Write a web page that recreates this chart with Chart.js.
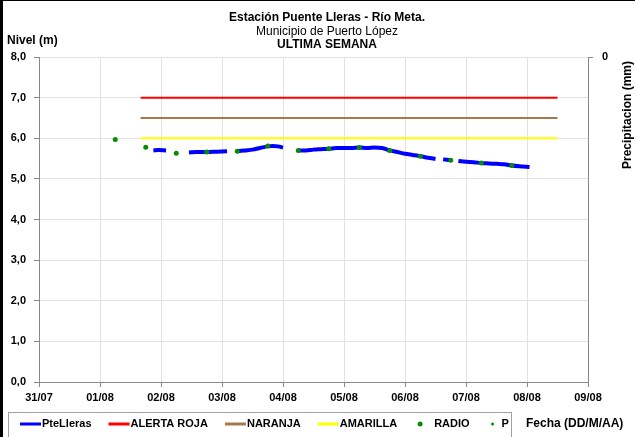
<!DOCTYPE html>
<html>
<head>
<meta charset="utf-8">
<script src="https://cdn.jsdelivr.net/npm/chart.js@4"></script>
<style>
html, body { margin: 0; padding: 0; background: #fff; }
</style>
</head>
<body>
<canvas id="nivel" width="635" height="437"></canvas>
<script>
// eje x en horas desde 31/07 00:00
var fechas = ['31/07', '01/08', '02/08', '03/08', '04/08', '05/08', '06/08', '07/08', '08/08', '09/08'];

// PteLleras (null = hueco en el registro)
var nivelHoras = [45, 47, 50, 52,
    59, 62, 66, 70, 74, 76,
    78, 81, 84, 87, 90, 92, 94, 96, 99,
    102, 105, 108, 111, 114, 117, 120, 123, 126, 129, 132, 135, 138, 141, 144, 147, 150, 153, 156, 157,
    159, 162, 163,
    165, 168, 171, 174, 177, 180, 183, 186, 189, 193];
var nivelM = [5.70, 5.71, 5.70, null,
    5.65, 5.66, 5.66, 5.67, 5.68, null,
    5.68, 5.70, 5.72, 5.76, 5.80, 5.81, 5.80, 5.77, null,
    5.70, 5.70, 5.72, 5.73, 5.74, 5.76, 5.76, 5.76, 5.77, 5.76, 5.77, 5.76, 5.70, 5.66, 5.62, 5.59, 5.56, 5.52, 5.49, null,
    5.48, 5.46, null,
    5.44, 5.42, 5.41, 5.39, 5.38, 5.37, 5.36, 5.33, 5.31, 5.29];

// lecturas de RADIO
var radioHoras = [30, 42, 54, 66, 78, 90, 102, 114, 126, 138, 150, 162, 174, 186];
var radioM = [5.97, 5.78, 5.63, 5.66, 5.68, 5.81, 5.70, 5.74, 5.77, 5.70, 5.56, 5.46, 5.39, 5.33];

// umbrales de alerta
var alertaNombres = ['ALERTA ROJA', 'NARANJA', 'AMARILLA'];
var alertaNiveles = [7.0, 6.5, 6.0];
var alertaColores = ['#ff0000', '#a8784c', '#ffff00'];
var alertaDesde = 40, alertaHasta = 204;

// precipitacion: sin datos esta semana
var lluviaHoras = [];
var lluviaMm = [];

var fuente = '"Liberation Sans", Arial, sans-serif';

function puntos(xs, ys) {
    return xs.map(function (x, i) { return { x: x, y: ys[i] }; });
}

var datasets = [{
    label: 'PteLleras',
    data: puntos(nivelHoras, nivelM),
    borderColor: '#0000ff',
    backgroundColor: '#0000ff',
    borderWidth: 4,
    pointRadius: 0,
    cubicInterpolationMode: 'monotone',
    spanGaps: false,
    order: 2,
    tipo: 'linea'
}];
alertaNombres.forEach(function (n, i) {
    datasets.push({
        label: n,
        data: [{ x: alertaDesde, y: alertaNiveles[i] }, { x: alertaHasta, y: alertaNiveles[i] }],
        borderColor: alertaColores[i],
        backgroundColor: alertaColores[i],
        borderWidth: 2,
        pointRadius: 0,
        order: 3,
        tipo: 'linea'
    });
});
datasets.push({
    label: 'RADIO',
    data: puntos(radioHoras, radioM),
    showLine: false,
    pointRadius: 2.5,
    pointBorderWidth: 0,
    backgroundColor: '#0a8a0a',
    borderColor: '#0a8a0a',
    order: 1,
    tipo: 'punto',
    r: 2.5
});
datasets.push({
    label: 'P',
    data: puntos(lluviaHoras, lluviaMm),
    yAxisID: 'y2',
    showLine: false,
    pointRadius: 1.5,
    backgroundColor: '#0a8a0a',
    borderColor: '#0a8a0a',
    order: 0,
    tipo: 'punto',
    r: 1.5
});

var textos = {
    id: 'textos',
    afterDraw: function (chart) {
        var ctx = chart.ctx;
        ctx.save();
        ctx.fillStyle = '#000';
        ctx.textBaseline = 'middle';
        ctx.textAlign = 'center';
        ctx.font = 'bold 12px ' + fuente;
        ctx.fillText('Estación Puente Lleras - Río Meta.', 327, 18);
        ctx.font = '12px ' + fuente;
        ctx.fillText('Municipio de Puerto López', 327, 32);
        ctx.font = 'bold 12px ' + fuente;
        ctx.fillText('ULTIMA SEMANA', 327, 45);
        ctx.textAlign = 'left';
        ctx.fillText('Nivel (m)', 7, 41);
        ctx.fillText('Fecha (DD/M/AA)', 526, 424);

        ctx.save();
        ctx.translate(628, 115);
        ctx.rotate(-Math.PI / 2);
        ctx.textAlign = 'center';
        ctx.fillText('Precipitacion (mm)', 0, 0);
        ctx.restore();

        // leyenda
        ctx.strokeStyle = '#a0a0a0';
        ctx.lineWidth = 1;
        ctx.strokeRect(8.5, 412.5, 503, 30);
        ctx.font = 'bold 11px ' + fuente;
        var x = 20, y = 424;
        chart.data.datasets.forEach(function (ds) {
            if (ds.tipo === 'linea') {
                ctx.fillStyle = ds.borderColor;
                ctx.fillRect(x, y - 1.5, 21, 3);
                x += 22;
            } else {
                ctx.fillStyle = ds.backgroundColor;
                ctx.beginPath();
                ctx.arc(x + 6, y, ds.r, 0, Math.PI * 2);
                ctx.fill();
                x += ds.label === 'P' ? 15 : 20;
            }
            ctx.fillStyle = '#000';
            ctx.fillText(ds.label, x, y);
            x += ctx.measureText(ds.label).width + 17;
        });

        // marco exterior
        ctx.fillStyle = '#000';
        ctx.fillRect(0, 0, 3, chart.height);
        ctx.fillRect(0, 0, chart.width, 1);
        ctx.restore();
    }
};

new Chart(document.getElementById('nivel'), {
    type: 'line',
    data: { datasets: datasets },
    options: {
        responsive: false,
        animation: false,
        layout: { padding: { top: 57, left: 0, right: 0, bottom: 0 } },
        plugins: {
            legend: { display: false },
            title: { display: false },
            tooltip: { enabled: false }
        },
        scales: {
            x: {
                type: 'linear',
                min: 0,
                max: 216,
                ticks: {
                    stepSize: 24,
                    autoSkip: false,
                    maxRotation: 0,
                    padding: 4,
                    color: '#000',
                    font: { family: fuente, size: 11, weight: 'bold' },
                    callback: function (v) { return fechas[v / 24]; }
                },
                grid: { color: '#e2e2e2', tickColor: '#888', tickLength: 5 },
                border: { color: '#888' },
                afterFit: function (s) { s.height = 55; }
            },
            y: {
                min: 0,
                max: 8,
                ticks: {
                    stepSize: 1,
                    padding: 8,
                    color: '#000',
                    font: { family: fuente, size: 11, weight: 'bold' },
                    callback: function (v) { return v.toFixed(1).replace('.', ','); }
                },
                grid: { color: '#e2e2e2', tickColor: '#888', tickLength: 5 },
                border: { color: '#888' },
                afterFit: function (s) { s.width = 39; }
            },
            y2: {
                position: 'right',
                min: 0,
                max: 1,
                reverse: true,
                afterBuildTicks: function (s) { s.ticks = [{ value: 0 }]; },
                ticks: {
                    padding: 9,
                    color: '#000',
                    font: { family: fuente, size: 11, weight: 'bold' },
                    callback: function () { return '0'; }
                },
                grid: { drawOnChartArea: false, tickColor: '#888', tickLength: 5 },
                border: { color: '#888' },
                afterFit: function (s) { s.width = 47; }
            }
        }
    },
    plugins: [textos]
});
</script>
</body>
</html>
